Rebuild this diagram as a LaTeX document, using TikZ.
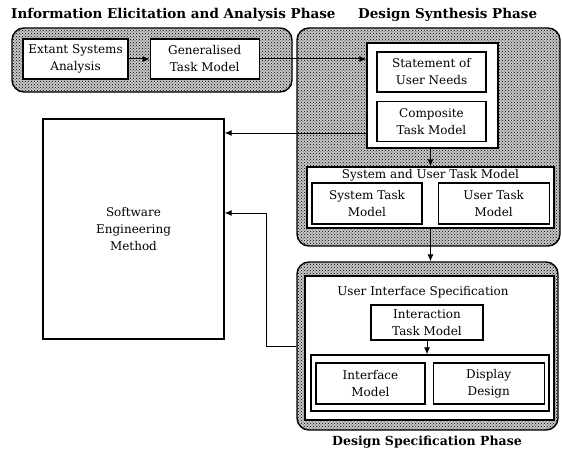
\documentclass[tikz,border=0pt]{standalone}
\usepackage{fontspec}
\setmainfont{DejaVu Serif}
\usepackage{xcolor}
\usepackage{tikz}
\usetikzlibrary{positioning,patterns,arrows.meta}

\begin{document}
\begin{tikzpicture}[x=1pt,y=-1pt,
phase/.style={rectangle,rounded corners=12pt,draw=black,line width=1.4pt,
preaction={fill=black!22},pattern=crosshatch dots,pattern color=black,inner sep=0pt},
boxframe/.style={rectangle,draw=black,fill=white,line width=1.2pt,inner sep=0pt},
task/.style={rectangle,draw=black,fill=white,line width=1.2pt,inner sep=0pt,
align=center,font=\fontsize{12}{17}\selectfont,minimum height=40pt},
boxtitle/.style={anchor=base,inner sep=0pt,font=\fontsize{12}{17}\selectfont},
phasetitle/.style={anchor=base west,inner sep=0pt,font=\fontsize{13.5}{15}\bfseries\selectfont},
arr/.style={-{Latex[length=7pt,width=6pt]},line width=1pt}]
    \useasboundingbox (0,0) rectangle (562,452);
    % phase titles
    \node[phasetitle] (Info title) at (11,19) {Information Elicitation and Analysis Phase};
    \node[phasetitle] (Synth title) at (358,19) {Design Synthesis Phase};
    \node[phasetitle,anchor=base,font=\fontsize{12.5}{15}\bfseries\selectfont] (Spec title) at (427,445) {Design Specification Phase};
    % information elicitation and analysis
    \node[phase,minimum width=280pt,minimum height=64pt] (Info phase) at (152,60) {};
    \node[task,minimum width=105pt] (Extant box) at (75.5,59) {Extant Systems\\Analysis};
    \node[task,minimum width=109pt,right=21pt of Extant box] (General box) {Generalised\\Task Model};
    % design synthesis
    \node[phase,minimum width=263pt,minimum height=218pt] (Synth phase) at (428.5,137) {};
    \node[boxframe,minimum width=131pt,minimum height=105pt] (Needs frame) at (432.5,95.5) {};
    \node[task,minimum width=109pt] (Needs box) at (431.5,72) {Statement of\\User Needs};
    \node[task,minimum width=109pt,below=8pt of Needs box] (Composite box) {Composite\\Task Model};
    \node[boxframe,minimum width=247pt,minimum height=61pt] (SysUser frame) at (430.5,197.5) {};
    \node[boxtitle] (SysUser title) at (430.5,178) {System and User Task Model};
    \node[task,minimum width=110pt,minimum height=41pt] (System box) at (367,203.5) {System Task\\Model};
    \node[task,minimum width=111pt,minimum height=41pt,right=15pt of System box] (User box) {User Task\\Model};
    % design specification
    \node[phase,minimum width=261pt,minimum height=168pt] (Spec phase) at (427.5,346) {};
    \node[boxframe,minimum width=249pt,minimum height=144pt] (UI frame) at (429.5,348) {};
    \node[boxtitle] (UI title) at (423,295) {User Interface Specification};
    \node[task,minimum width=112pt,minimum height=35pt] (Interaction box) at (427,322.5) {Interaction\\Task Model};
    \node[boxframe,minimum width=238pt,minimum height=56pt] (Interface frame) at (430,383) {};
    \node[task,minimum width=109pt,minimum height=41pt] (Interface box) at (370.5,383.5) {Interface\\Model};
    \node[task,minimum width=111pt,minimum height=41pt,right=7pt of Interface box] (Display box) {Display\\Design};
    % method
    \node[task,minimum width=181pt,minimum height=220pt] (Method box) at (133.5,229) {Software\\Engineering\\Method};
    \coordinate (method in) at (367,133);
    \coordinate (method bend) at (266,213);
    \draw[arr] (Extant box) -- (General box);
    \draw[arr] (General box.east) -- (General box.east -| Needs frame.west);
    \draw[arr] (method in) -- (method in -| Method box.east);
    \draw[arr] (SysUser frame.north |- Needs frame.south) -- (SysUser frame.north);
    \draw[arr] (SysUser frame.south) -- (SysUser frame.south |- Spec phase.north);
    \draw[arr] (Interaction box.south) -- (Interaction box.south |- Interface frame.north);
    \draw[arr] (Spec phase.west) -| (method bend) -- (method bend -| Method box.east);
\end{tikzpicture}
\end{document}
